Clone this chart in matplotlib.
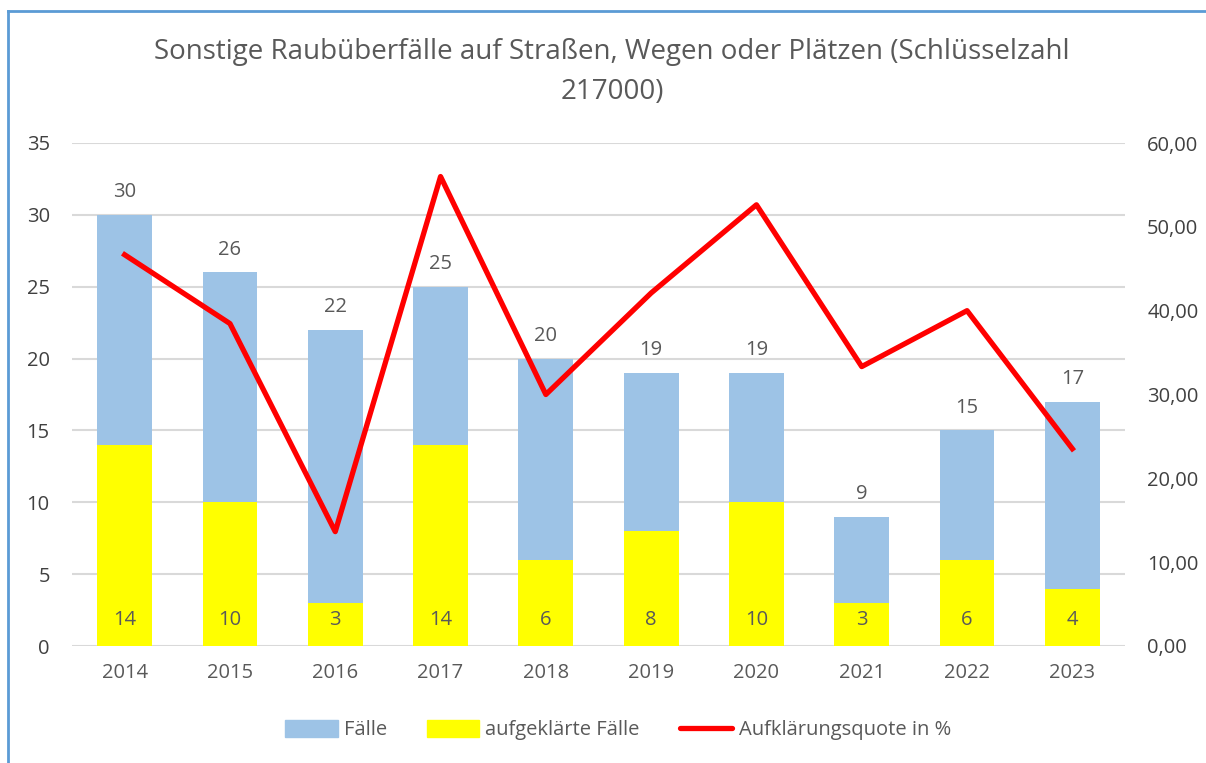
import matplotlib
matplotlib.use("Agg")
import matplotlib.pyplot as plt
from matplotlib.lines import Line2D
from matplotlib.patches import Patch
import numpy as np

years = ["2014", "2015", "2016", "2017", "2018", "2019", "2020", "2021", "2022", "2023"]
faelle = [30, 26, 22, 25, 20, 19, 19, 9, 15, 17]
aufgeklaert = [14, 10, 3, 14, 6, 8, 10, 3, 6, 4]
quote = [46.67, 38.46, 13.64, 56.00, 30.00, 42.11, 52.63, 33.33, 40.00, 23.53]

plt.rcParams['font.family'] = ['Open Sans', 'DejaVu Sans']
txt = '#595959'
fs = 14.5

fig = plt.figure(figsize=(12.06, 7.63), dpi=100)
ax = fig.add_axes([72/1206, 1-646/763, (1125-72)/1206, (646-143)/763])
x = np.arange(len(years))
w = 0.52
ax.bar(x, faelle, w, color='#9DC3E6', zorder=2)
ax.bar(x, aufgeklaert, w, color='#FFFF00', zorder=3)
ax.set_xlim(-0.5, len(years)-0.5)
ax.set_ylim(0, 35)
ax.set_yticks(range(0, 36, 5))
ax.grid(axis='y', color='#D9D9D9', linewidth=1.5, zorder=0)
for s in ax.spines.values():
    s.set_visible(False)
ax.tick_params(length=0, labelsize=fs, colors='#404040')
ax.tick_params(axis='x', colors=txt, pad=12)
ax.tick_params(axis='y', pad=16)
ax.set_xticks(x)
ax.set_xticklabels(years)
for i in range(len(years)):
    ax.annotate(str(faelle[i]), (x[i], faelle[i]), xytext=(0, 9), textcoords='offset points',
                ha='center', va='bottom', fontsize=fs, color=txt, zorder=5)
    ax.text(x[i], 1.8, str(aufgeklaert[i]), ha='center', va='center', fontsize=fs, color=txt, zorder=5)

ax2 = ax.twinx()
ax2.plot(x, quote, color='#FF0000', linewidth=3.8, zorder=4)
ax2.set_ylim(0, 60)
ax2.set_yticks(range(0, 61, 10))
ax2.set_yticklabels([f"{v},00" for v in range(0, 61, 10)])
for s in ax2.spines.values():
    s.set_visible(False)
ax2.tick_params(length=0, labelsize=fs, colors='#404040', pad=16)

fig.text(612/1206, 1-52/763, "Sonstige Raubüberfälle auf Straßen, Wegen oder Plätzen (Schlüsselzahl",
         ha='center', va='center', fontsize=20, color=txt)
fig.text(612/1206, 1-92/763, "217000)", ha='center', va='center', fontsize=20, color=txt)

handles = [Patch(color='#9DC3E6', label='Fälle'),
           Patch(color='#FFFF00', label='aufgeklärte Fälle'),
           Line2D([0], [0], color='#FF0000', linewidth=3.8, solid_capstyle='round', label='Aufklärungsquote in %')]
leg = fig.legend(handles=handles, loc='center', bbox_to_anchor=(618/1206, 1-730/763), ncol=3,
                 frameon=False, fontsize=fs, handlelength=2.6, handleheight=0.9, columnspacing=2.0,
                 handletextpad=0.3)
for t in leg.get_texts():
    t.set_color(txt)

fig.add_artist(Line2D([8/1206, 8/1206], [0, 1-11/763], color='#5B9BD5', linewidth=2))
fig.add_artist(Line2D([8/1206, 1], [1-11/763, 1-11/763], color='#5B9BD5', linewidth=2))

fig.savefig('out.png', dpi=100)
